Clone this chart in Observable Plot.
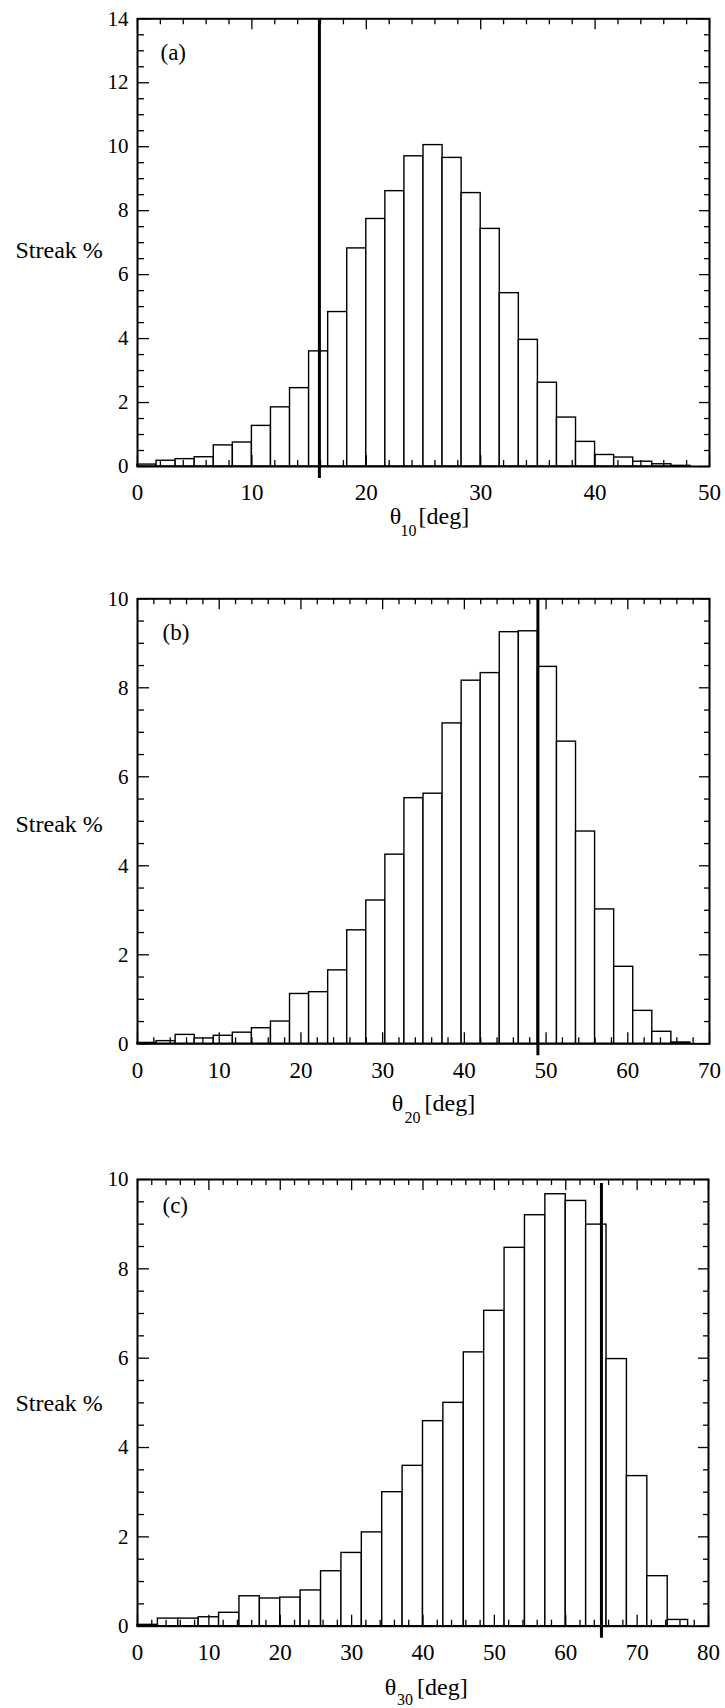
<!DOCTYPE html>
<html><head><meta charset="utf-8">
<script src="https://cdn.jsdelivr.net/npm/d3@7"></script>
<script src="https://cdn.jsdelivr.net/npm/@observablehq/plot@0.6"></script>
<style>
body{margin:0;background:#fff}
#chart{width:725px;height:1708px;overflow:hidden}
#chart svg{display:block}
</style>
</head><body><div id="chart"></div>
<script>
// ---- data ----
const panelTags = ["(a)", "(b)", "(c)"];
const yLabel = "Streak %";
const xSymbol = "θ";
const xSubscripts = ["10", "20", "30"];
const xUnit = "[deg]";

const xMaxA = 50, xMaxB = 70, xMaxC = 80;
const yMaxA = 14, yMaxB = 10, yMaxC = 10;
const binCountA = 30, binCountB = 30, binCountC = 28;

const valuesA = [0.06,0.18,0.23,0.29,0.66,0.75,1.27,1.85,2.45,3.6,4.83,6.82,7.74,8.61,9.7,10.05,9.65,8.55,7.43,5.42,3.96,2.62,1.53,0.77,0.36,0.28,0.15,0.07,0.02,0];
const valuesB = [0.02,0.06,0.2,0.12,0.18,0.25,0.35,0.5,1.12,1.16,1.65,2.55,3.22,4.25,5.52,5.62,7.2,8.16,8.33,9.25,9.27,8.47,6.79,4.77,3.02,1.73,0.74,0.27,0.03,0];
const valuesC = [0.03,0.17,0.17,0.2,0.3,0.67,0.62,0.64,0.8,1.23,1.64,2.1,3.0,3.59,4.59,5.0,6.13,7.06,8.47,9.2,9.67,9.52,8.99,5.98,3.36,1.12,0.14,0];

const markerA = 15.9, markerB = 49, markerC = 65;

const xTicksA = [0,10,20,30,40,50];
const xTicksB = [0,10,20,30,40,50,60,70];
const xTicksC = [0,10,20,30,40,50,60,70,80];
const yTicksA = [0,2,4,6,8,10,12,14];
const yTicksB = [0,2,4,6,8,10];
const yTicksC = [0,2,4,6,8,10];

// ---- layout (styles only) ----
const layouts = [
  {height:565, mt:18.3, mb:99,   ml:137, mr:16, streakDy:8, tagDx:23, tagDy:34,  thDx:-28,  thDy:50, subDx:-15,   subDy:64, degDx:-5,  ruleTop:0, pad:26},
  {height:575, mt:33.3, mb:96.7, ml:137, mr:16, streakDy:3, tagDx:25, tagDy:33.5,thDx:-26,  thDy:60, subDx:-11,   subDy:74, degDx:1,   ruleTop:0, pad:27},
  {height:568, mt:39,   mb:82.3, ml:137, mr:17, streakDy:0, tagDx:25, tagDy:26,  thDx:-32.5,thDy:61, subDx:-18,   subDy:74, degDx:-6,  ruleTop:4, pad:26}
];

const panels = [
  {values:valuesA, xMax:xMaxA, yMax:yMaxA, bins:binCountA, marker:markerA, xTicks:xTicksA, yTicks:yTicksA},
  {values:valuesB, xMax:xMaxB, yMax:yMaxB, bins:binCountB, marker:markerB, xTicks:xTicksB, yTicks:yTicksB},
  {values:valuesC, xMax:xMaxC, yMax:yMaxC, bins:binCountC, marker:markerC, xTicks:xTicksC, yTicks:yTicksC}
];

const font = "'Liberation Serif', 'Times New Roman', serif";
const chart = document.getElementById("chart");

panels.forEach((p, i) => {
  const L = layouts[i];
  const w = p.xMax / p.bins;
  const bars = p.values.map((v, k) => ({x1: k * w, x2: (k + 1) * w, y1: 0, y2: v}));
  const innerW = 725 - L.ml - L.mr;
  const innerH = L.height - L.mt - L.mb;
  const xMinor = d3.range(0, p.xMax + 0.001, 2).filter(t => !p.xTicks.includes(t));
  const yMinor = d3.range(0, p.yMax + 0.001, 0.5).filter(t => !p.yTicks.includes(t));
  const tickW = 1.3;
  const svg = Plot.plot({
    width: 725,
    height: L.height,
    marginLeft: L.ml, marginRight: L.mr, marginTop: L.mt, marginBottom: L.mb,
    style: {fontFamily: font, fontSize: "22px", background: "white", color: "black", overflow: "visible"},
    x: {domain: [0, p.xMax], axis: null},
    y: {domain: [0, p.yMax], axis: null},
    marks: [
      Plot.rect(bars, {x1: "x1", x2: "x2", y1: "y1", y2: "y2", fill: "white", stroke: "black", strokeWidth: 1.4}),
      // inward ticks: bottom & top
      Plot.ruleX(p.xTicks, {x: d => d, insetTop: innerH - 11, stroke: "black", strokeWidth: tickW}),
      Plot.ruleX(p.xTicks, {x: d => d, insetBottom: innerH - 11, stroke: "black", strokeWidth: tickW}),
      Plot.ruleX(xMinor, {x: d => d, insetTop: innerH - 6, stroke: "black", strokeWidth: tickW}),
      Plot.ruleX(xMinor, {x: d => d, insetBottom: innerH - 6, stroke: "black", strokeWidth: tickW}),
      // inward ticks: left & right
      Plot.ruleY(p.yTicks, {y: d => d, insetRight: innerW - 12, stroke: "black", strokeWidth: tickW}),
      Plot.ruleY(p.yTicks, {y: d => d, insetLeft: innerW - 10, stroke: "black", strokeWidth: tickW}),
      Plot.ruleY(yMinor, {y: d => d, insetRight: innerW - 7, stroke: "black", strokeWidth: tickW}),
      Plot.ruleY(yMinor, {y: d => d, insetLeft: innerW - 5, stroke: "black", strokeWidth: tickW}),
      Plot.frame({stroke: "black", strokeWidth: 2}),
      Plot.ruleX([p.marker], {x: d => d, insetTop: L.ruleTop, insetBottom: -12, stroke: "black", strokeWidth: 3}),
      // tick labels through the scales
      Plot.text(p.xTicks, {x: d => d, frameAnchor: "bottom", text: d => String(d), textAnchor: "middle", lineAnchor: "middle", dy: L.pad, fontSize: 23, fontFamily: font}),
      Plot.text(p.yTicks, {y: d => d, frameAnchor: "left", text: d => String(d), textAnchor: "end", lineAnchor: "middle", dx: -9, fontSize: 21, fontFamily: font}),
      Plot.text([panelTags[i]], {frameAnchor: "top-left", textAnchor: "start", lineAnchor: "middle", dx: L.tagDx, dy: L.tagDy, fontSize: 23, fontFamily: font}),
      Plot.text([yLabel], {frameAnchor: "left", textAnchor: "start", lineAnchor: "middle", dx: 15 - L.ml, dy: L.streakDy, fontSize: 24, fontFamily: font}),
      Plot.text([xSymbol], {frameAnchor: "bottom", textAnchor: "middle", lineAnchor: "middle", dx: L.thDx, dy: L.thDy, fontSize: 24, fontFamily: font}),
      Plot.text([xSubscripts[i]], {frameAnchor: "bottom", textAnchor: "middle", lineAnchor: "middle", dx: L.subDx, dy: L.subDy, fontSize: 16, fontFamily: font}),
      Plot.text([xUnit], {frameAnchor: "bottom", textAnchor: "start", lineAnchor: "middle", dx: L.degDx, dy: L.thDy, fontSize: 24, fontFamily: font})
    ]
  });
  chart.appendChild(svg);
});
</script>
</body></html>
